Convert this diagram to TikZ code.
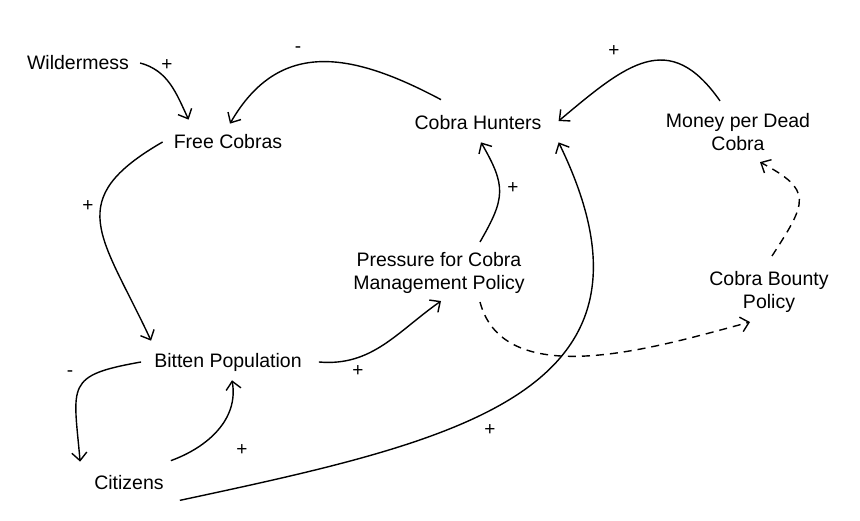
\documentclass[tikz,border=0pt]{standalone}
\usepackage{fontspec}
\setmainfont{Liberation Sans}
\usepackage{tikz}
\usetikzlibrary{arrows.meta, positioning}

\begin{document}
\begin{tikzpicture}[x=1pt, y=1pt,
  every node/.style={font=\fontsize{19.5}{23.5}\selectfont, align=center, inner sep=3pt},
  sign/.style={font=\fontsize{19}{19}\selectfont, inner sep=0pt},
  link/.style={-{Straight Barb[length=8pt,width=15pt]}, line width=1.4pt},
  delay/.style={link, dash pattern=on 8pt off 6pt}]
\useasboundingbox (0,0) rectangle (860,-521);
% Variables
\node (wild) at (78,-63) {Wildermess};
\node (free) at (228,-142) {Free Cobras};
\node (hunt) at (478,-123) {Cobra Hunters};
\node (money) at (738,-132) {Money per Dead\\Cobra};
\node (press) at (439,-273) {Pressure for Cobra\\Management Policy};
\node (bounty) at (769,-292) {Cobra Bounty\\Policy};
\node (bitten) at (228,-362) {Bitten Population};
\node (cit) at (129,-483) {Citizens};
% Wildermess feeds free cobras
\draw[link] ([xshift=8]wild.east) to[out=-15, in=115] ([shift={(18,12)}]free.north west);
\node[sign] (s1) at (167,-65) {+};
% Hunters reduce free cobras
\draw[link] ([shift={(-37,13)}]hunt.north) to[out=152, in=60, looseness=1.2] ([shift={(2,8)}]free.north);
\node[sign] (s2) at (298,-50) {-};
% Bounty money attracts hunters
\draw[link] ([shift={(-18,9)}]money.north) to[out=125, in=40, looseness=1.4] ([shift={(14,2)}]hunt.east);
\node[sign] (s3) at (614,-51) {+};
% Free cobras bite people
\draw[link] ([xshift=-8]free.west) to[out=210, in=115, looseness=1.5] ([shift={(0,9)}]bitten.north west);
\node[sign] (s4) at (88,-206) {+};
% Bitten population raises pressure
\draw[link] ([xshift=14]bitten.east) to[out=-5, in=215] ([shift={(2,-4)}]press.south);
\node[sign] (s5) at (358,-371) {+};
% Pressure raises hunters
\draw[link] ([shift={(41,7)}]press.north) to[out=60, in=-60, looseness=1.3] ([shift={(3,-9)}]hunt.south);
\node[sign] (s6) at (513,-188) {+};
% Bitten population and citizens
\draw[link] ([xshift=-10]bitten.west) to[out=190, in=95, looseness=1.7] ([shift={(-11,11)}]cit.north west);
\node[sign] (s7) at (70,-374) {-};
\draw[link] ([shift={(4,12)}]cit.north east) to[out=20, in=-80] ([shift={(4,-6)}]bitten.south);
\node[sign] (s8) at (242,-450) {+};
% Citizens become hunters
\draw[link] ([shift={(13,-7)}]cit.south east) .. controls +(280,60) and +(122,-250) .. ([shift={(14,-9)}]hunt.south east);
\node[sign] (s9) at (490,-430) {+};
% Policy chain (dashed)
\draw[delay] ([shift={(41,-5)}]press.south) to[out=-75, in=195, looseness=0.9] ([shift={(-19,-6)}]bounty.south);
\draw[delay] ([shift={(3,12)}]bounty.north) .. controls +(57:65) and +(-28:60) .. ([shift={(22,-8)}]money.south);
\end{tikzpicture}
\end{document}
